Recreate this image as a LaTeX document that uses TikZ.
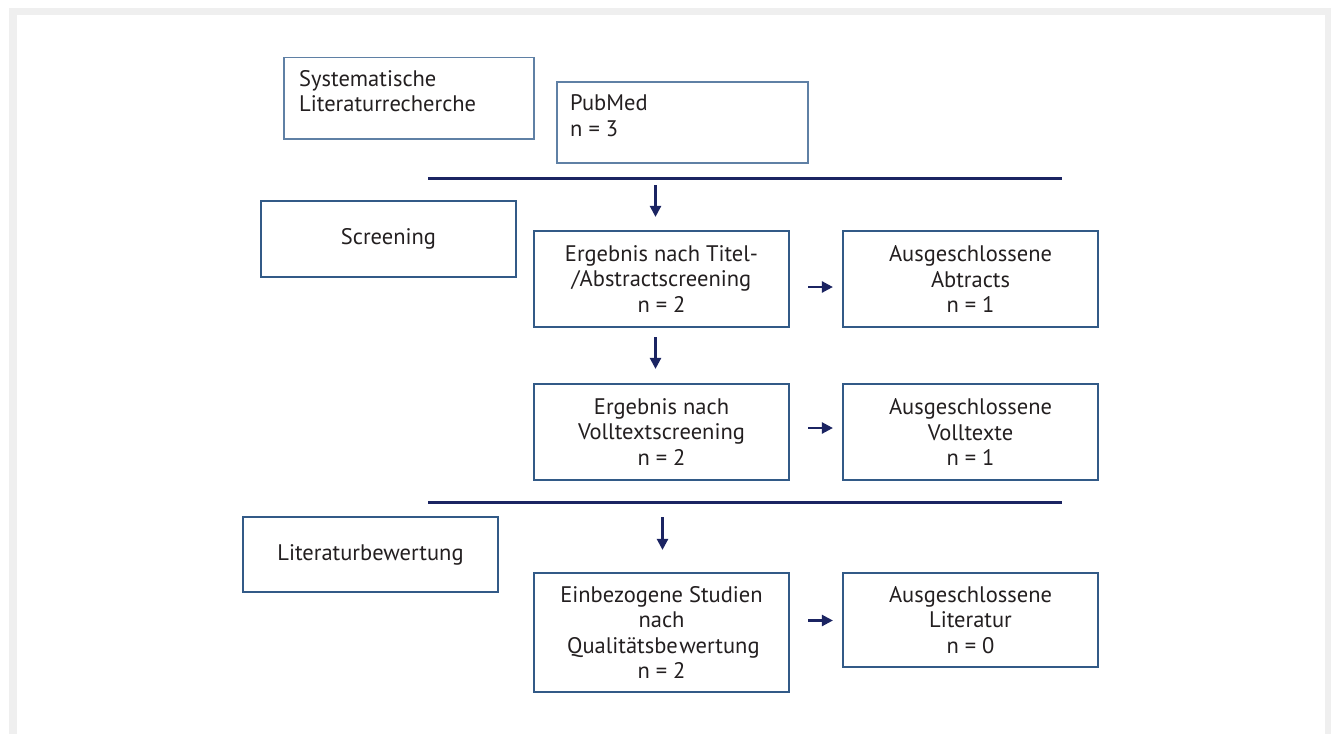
\documentclass[tikz,border=0pt]{standalone}
\usepackage{fontspec}
\setmainfont{PT Sans}
\usetikzlibrary{arrows.meta}
\definecolor{navy}{RGB}{27,36,98}
\definecolor{boxblue}{RGB}{50,90,135}
\definecolor{boxlight}{RGB}{95,128,165}
\definecolor{framegray}{RGB}{239,239,239}
\definecolor{ink}{RGB}{35,31,32}
\begin{document}
\begin{tikzpicture}[x=1bp,y=-1bp,
  every node/.style={font=\fontsize{22.5bp}{25.5bp}\selectfont, text=ink},
  stage/.style={draw=boxblue, line width=2.2bp, minimum width=255bp, inner sep=0pt, align=center},
  srcbox/.style={draw=boxlight, line width=1.5bp, inner sep=0pt},
  txt/.style={inner sep=0pt, align=left, anchor=base west},
  sep/.style={draw=navy, line width=3bp},
  flow/.style={draw=navy, line width=2.4bp, -{Triangle[width=11bp,length=11bp]}},
]
\useasboundingbox (0,0) rectangle (1331,734);
% page frame
\fill[framegray] (9,8) rectangle (1331,734);
\fill[white] (17,15) rectangle (1325,734);

% search
\node[srcbox, minimum width=250bp, minimum height=81.5bp] (sys) at (409,98.25) {};
\node[txt] (systxt) at (299,112) {Systematische\\Literaturrecherche};
\node[srcbox, minimum width=251bp, minimum height=81bp] (pub) at (682.5,122.5) {};
\node[txt] (pubtxt) at (570,136) {PubMed\\n = 3};

% screening
\node[stage, minimum height=76bp] (scr) at (388.5,239) {Screening};
\node[stage, minimum height=96bp] (titel) at (661.5,279) {Ergebnis nach Titel-\\/Abstractscreening\\n = 2};
\node[stage, minimum height=96bp] (abs) at (970.5,279) {Ausgeschlossene\\Abtracts\\n = 1};
\node[stage, minimum height=96bp] (voll) at (661.5,432) {Ergebnis nach\\Volltextscreening\\n = 2};
\node[stage, minimum height=96bp] (vollx) at (970.5,432) {Ausgeschlossene\\Volltexte\\n = 1};

% assessment
\node[stage, minimum height=75bp] (bew) at (370.5,554.5) {Literaturbewertung};
\node[stage, minimum height=119bp] (einb) at (661.5,632.5) {Einbezogene Studien\\nach\\\,Qualitätsbe\kern1.5bp wertung\\n = 2};
\node[stage, minimum height=94bp] (litx) at (970.5,620) {Ausgeschlossene\\Literatur\\n = 0};

% phase separators
\coordinate (l1a) at (428,178);
\coordinate (l1b) at (1062,178);
\coordinate (l2a) at (428,502.5);
\coordinate (l2b) at (1062,502.5);
\draw[sep] (l1a) -- (l1b);
\draw[sep] (l2a) -- (l2b);

% flow arrows
\coordinate (d1) at (655.5,185);
\coordinate (d2) at (655.5,337);
\coordinate (d3) at (662.5,517);
\draw[flow, shorten >=13bp] (d1) -- (d1 |- titel.north);
\draw[flow, shorten >=14bp] (d2) -- (d2 |- voll.north);
\draw[flow, shorten >=22bp] (d3) -- (d3 |- einb.north);

\coordinate (r1) at (808,287);
\coordinate (r2) at (808,428);
\coordinate (r3) at (808,620.5);
\draw[flow, shorten >=9bp] (r1) -- (r1 -| abs.west);
\draw[flow, shorten >=9bp] (r2) -- (r2 -| vollx.west);
\draw[flow, shorten >=9bp] (r3) -- (r3 -| litx.west);
\end{tikzpicture}
\end{document}
